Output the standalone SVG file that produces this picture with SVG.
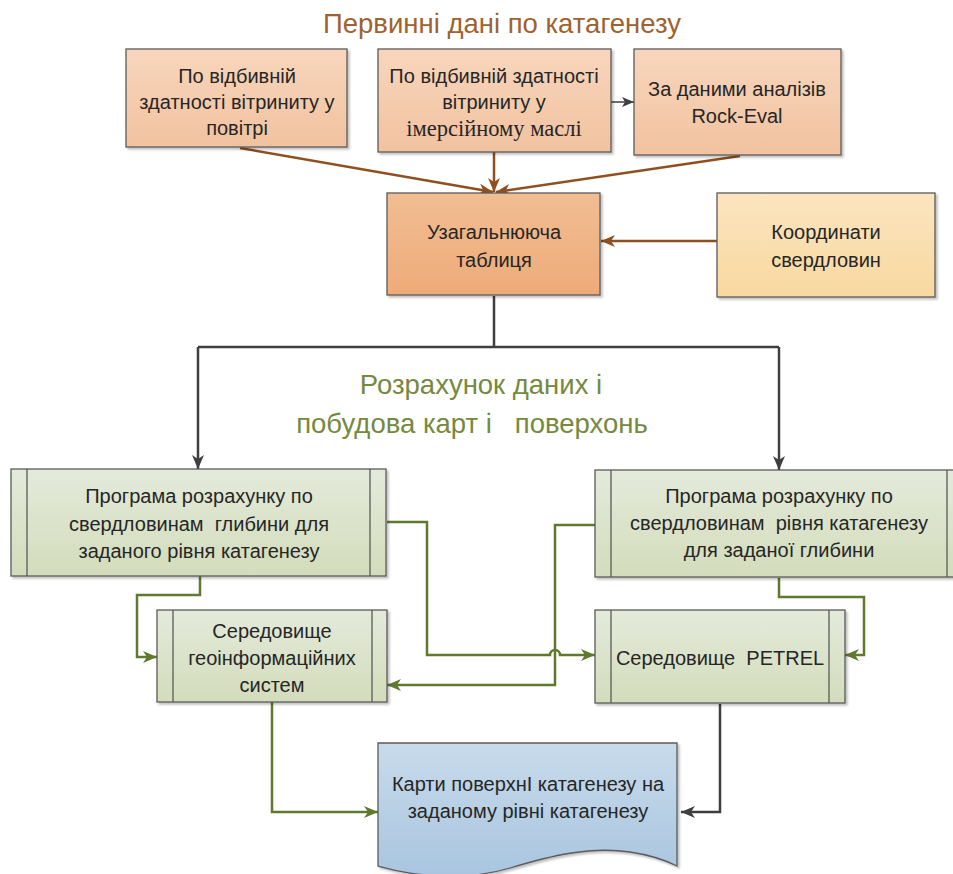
<svg xmlns="http://www.w3.org/2000/svg" width="953" height="874" viewBox="0 0 953 874">
<defs>
<linearGradient id="gPeach" x1="0" y1="0" x2="0" y2="1"><stop offset="0" stop-color="#f8d6bd"/><stop offset="1" stop-color="#f1c29f"/></linearGradient>
<linearGradient id="gOrange" x1="0" y1="0" x2="0" y2="1"><stop offset="0" stop-color="#f1bd93"/><stop offset="1" stop-color="#eeab78"/></linearGradient>
<linearGradient id="gYellow" x1="0" y1="0" x2="0" y2="1"><stop offset="0" stop-color="#fbe5bf"/><stop offset="1" stop-color="#f8d8a0"/></linearGradient>
<linearGradient id="gGreen" x1="0" y1="0" x2="0" y2="1"><stop offset="0" stop-color="#e4eadb"/><stop offset="1" stop-color="#d3dcbb"/></linearGradient>
<linearGradient id="gBlue" x1="0" y1="0" x2="0" y2="1"><stop offset="0" stop-color="#c8dbeb"/><stop offset="1" stop-color="#a9c5df"/></linearGradient>
<filter id="sh" x="-5%" y="-5%" width="115%" height="120%"><feDropShadow dx="2" dy="2" stdDeviation="1.2" flood-color="#000" flood-opacity="0.25"/></filter>
<marker id="aBrown" markerUnits="userSpaceOnUse" viewBox="0 0 14 12" refX="14" refY="6" markerWidth="14" markerHeight="12" orient="auto"><path d="M0,0 L14,6 L0,12 L4,6 Z" fill="#8f4f1f"/></marker>
<marker id="aDark" markerUnits="userSpaceOnUse" viewBox="0 0 14 12" refX="14" refY="6" markerWidth="14" markerHeight="12" orient="auto"><path d="M0,0 L14,6 L0,12 L4,6 Z" fill="#3f3f3f"/></marker>
<marker id="aDarkS" markerUnits="userSpaceOnUse" viewBox="0 0 12 10" refX="12" refY="5" markerWidth="12" markerHeight="10" orient="auto"><path d="M0,0 L12,5 L0,10 L3,5 Z" fill="#3f3f3f"/></marker>
<marker id="aGreen" markerUnits="userSpaceOnUse" viewBox="0 0 14 12" refX="14" refY="6" markerWidth="14" markerHeight="12" orient="auto"><path d="M0,0 L14,6 L0,12 L4,6 Z" fill="#5f7a2c"/></marker>
</defs>
<style>
.box{stroke:#5b5b5b;stroke-width:1.3;filter:url(#sh)}
.inner{stroke:#5b5b5b;stroke-width:1.3;fill:none}
.t{font-family:"Liberation Sans",Arial,sans-serif;font-size:20px;fill:#262626;text-anchor:middle}
.ts{font-family:"Liberation Serif","Times New Roman",serif;font-size:22.5px;fill:#262626;text-anchor:middle}
.brown{stroke:#8f4f1f;stroke-width:2.5;fill:none}
.dark{stroke:#3f3f3f;stroke-width:2.5;fill:none}
.green{stroke:#5f7a2c;stroke-width:2.5;fill:none}
.title{font-family:"Liberation Sans",Arial,sans-serif;font-size:27.5px;text-anchor:middle}
</style>
<rect width="953" height="874" fill="#ffffff"/>

<text class="title" x="502" y="33" fill="#a0622f">Первинні дані по катагенезу</text>
<text class="title" x="481" y="394" fill="#76893f">Розрахунок даних і</text>
<text class="title" x="472" y="433" fill="#76893f" xml:space="preserve">побудова карт і   поверхонь</text>

<g id="connectors">
<path class="brown" d="M240,148 L493,192" marker-end="url(#aBrown)"/>
<path class="brown" d="M494,152 L494,192" marker-end="url(#aBrown)"/>
<path class="brown" d="M740,156 L496,192" marker-end="url(#aBrown)"/>
<path class="brown" d="M717,241 L601,241" marker-end="url(#aBrown)"/>
<path class="dark" style="stroke-width:1.5" d="M611,102 L634,102" marker-end="url(#aDarkS)"/>
<path class="dark" d="M494,296 V347 M198,347 H779"/>
<path class="dark" d="M198,347 V469" marker-end="url(#aDark)"/>
<path class="dark" d="M779,347 V470" marker-end="url(#aDark)"/>
<path class="dark" d="M720,704 V812 H681" marker-end="url(#aDark)"/>
<path class="green" d="M200,576 V595 H137 V657 H157" marker-end="url(#aGreen)"/>
<path class="green" d="M387,522 H427 V655 H550 A5,5 0 0 1 560,655 H595" marker-end="url(#aGreen)"/>
<path class="green" d="M595,525 H555 V685 H387" marker-end="url(#aGreen)"/>
<path class="green" d="M779,578 V597 H864 V655 H845" marker-end="url(#aGreen)"/>
<path class="green" d="M272,702 V812 H378" marker-end="url(#aGreen)"/>
</g>

<g id="n1">
<rect class="box" x="126" y="49" width="221" height="98" fill="url(#gPeach)"/>
<text class="t" x="237" y="83">По відбивній</text>
<text class="t" x="237" y="109">здатності вітриниту у</text>
<text class="t" x="237" y="135">повітрі</text>
</g>
<g id="n2">
<rect class="box" x="378" y="49" width="233" height="103" fill="url(#gPeach)"/>
<text class="t" x="494" y="83">По відбивній здатності</text>
<text class="t" x="494" y="109">вітриниту у</text>
<text class="ts" x="494" y="136">імерсійному маслі</text>
</g>
<g id="n3">
<rect class="box" x="634" y="49" width="207" height="106" fill="url(#gPeach)"/>
<text class="t" x="737" y="96">За даними аналізів</text>
<text class="t" x="737" y="123">Rock-Eval</text>
</g>
<g id="n4">
<rect class="box" x="387" y="193" width="213" height="102" fill="url(#gOrange)"/>
<text class="t" x="494" y="239">Узагальнююча</text>
<text class="t" x="494" y="267">таблиця</text>
</g>
<g id="n5">
<rect class="box" x="717" y="193" width="218" height="104" fill="url(#gYellow)"/>
<text class="t" x="826" y="239">Координати</text>
<text class="t" x="826" y="267">свердловин</text>
</g>
<g id="n6">
<rect class="box" x="11" y="469" width="375" height="107" fill="url(#gGreen)"/>
<path class="inner" d="M27,469 V576 M370,469 V576"/>
<text class="t" x="199" y="503">Програма розрахунку по</text>
<text class="t" x="199" y="531" xml:space="preserve">свердловинам  глибини для</text>
<text class="t" x="199" y="558">заданого рівня катагенезу</text>
</g>
<g id="n7">
<rect class="box" x="595" y="470" width="368" height="107" fill="url(#gGreen)"/>
<path class="inner" d="M611,470 V577 M947,470 V577"/>
<text class="t" x="779" y="503">Програма розрахунку по</text>
<text class="t" x="779" y="530" xml:space="preserve">свердловинам  рівня катагенезу</text>
<text class="t" x="779" y="557">для заданої глибини</text>
</g>
<g id="n8">
<rect class="box" x="157" y="610" width="230" height="92" fill="url(#gGreen)"/>
<path class="inner" d="M173,610 V702 M372,610 V702"/>
<text class="t" x="272" y="638">Середовище</text>
<text class="t" x="272" y="665">геоінформаційних</text>
<text class="t" x="272" y="692">систем</text>
</g>
<g id="n9">
<rect class="box" x="595" y="610" width="250" height="93" fill="url(#gGreen)"/>
<path class="inner" d="M611,610 V703 M829,610 V703"/>
<text class="t" x="720" y="665" xml:space="preserve">Середовище  PETREL</text>
</g>
<g id="n10">
<path class="box" d="M378,743 H677 V866 C665,860 650,855 630,852 C590,846 550,856 510,868 C470,880 420,878 378,866 Z" fill="url(#gBlue)"/>
<text class="t" x="528" y="791">Карти поверхнІ катагенезу на</text>
<text class="t" x="528" y="818">заданому рівні катагенезу</text>
</g>
</svg>
